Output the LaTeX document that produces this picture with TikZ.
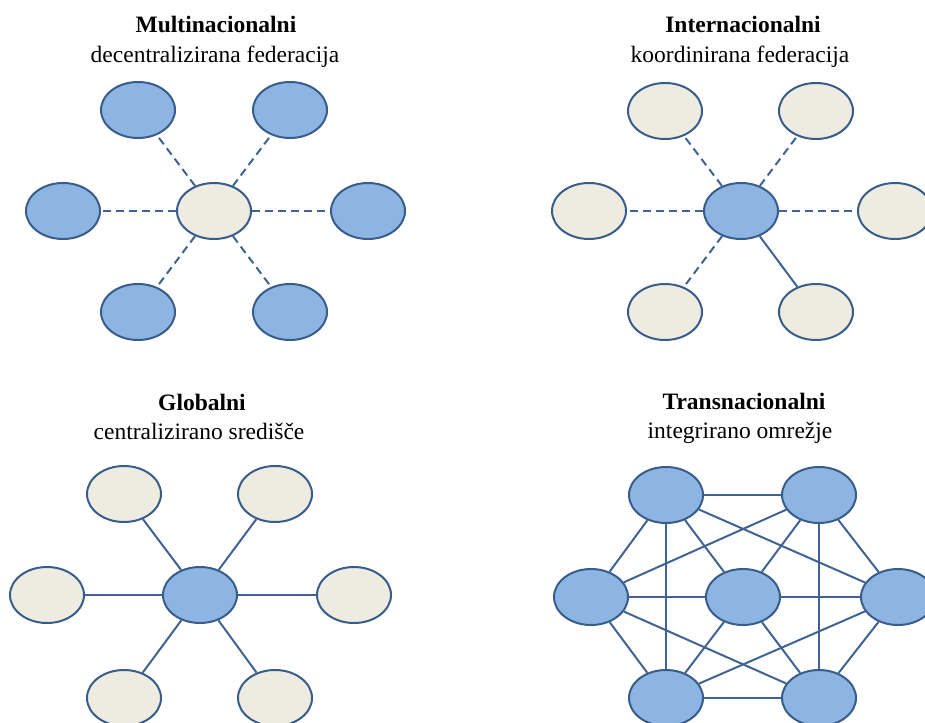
\documentclass[tikz,border=0pt]{standalone}
\usepackage{fontspec}
\setmainfont{Liberation Serif}
\usetikzlibrary{shapes.geometric}

\definecolor{nodeblue}{HTML}{8EB4E3}
\definecolor{nodetan}{HTML}{EEECE1}
\definecolor{rimblue}{HTML}{385D8A}
\definecolor{linkblue}{HTML}{3F6494}

\tikzset{
  unit/.style={ellipse, draw=rimblue, line width=2pt, inner sep=0pt,
               minimum width=74pt, minimum height=56pt},
  hub/.style={unit, fill=nodeblue},
  branch/.style={unit, fill=nodetan},
  link/.style={draw=linkblue, line width=2pt},
  loose/.style={link, dash pattern=on 8pt off 5pt},
  heading/.style={font=\fontsize{23.5}{28}\selectfont\bfseries, anchor=base, inner sep=0pt},
  caption/.style={font=\fontsize{23.5}{28}\selectfont, anchor=base, inner sep=0pt}
}

\begin{document}
\begin{tikzpicture}[x=1pt, y=-1pt]
\useasboundingbox (0,0) rectangle (925,722);
\clip (0,0) rectangle (925,722);

% ---- Multinacionalni: tan centre, blue units, dashed ties
\node[heading] (t1) at (216,33) {Multinacionalni};
\node[caption] (s1) at (215,63) {decentralizirana federacija};
\node[branch] (a0) at (214,211) {};
\node[hub] (a1) at (138,110) {};
\node[hub] (a2) at (290,110) {};
\node[hub] (a3) at (63,211) {};
\node[hub] (a4) at (368,211) {};
\node[hub] (a5) at (138,312) {};
\node[hub] (a6) at (290,312) {};
\foreach \n in {1,...,6} \draw[loose] (a0) -- (a\n);

% ---- Internacionalni: blue centre, tan units, one solid tie
\node[heading] (t2) at (743,33) {Internacionalni};
\node[caption] (s2) at (740,63) {koordinirana federacija};
\node[hub] (b0) at (741,211) {};
\node[branch] (b1) at (665,111) {};
\node[branch] (b2) at (816,111) {};
\node[branch] (b3) at (589,211) {};
\node[branch] (b4) at (895,211) {};
\node[branch] (b5) at (665,312) {};
\node[branch] (b6) at (816,312) {};
\foreach \n in {1,...,5} \draw[loose] (b0) -- (b\n);
\draw[link] (b0) -- (b6);

% ---- Globalni: blue centre, tan units, solid ties
\node[heading] (t3) at (202,410) {Globalni};
\node[caption] (s3) at (199,439) {centralizirano središče};
\node[hub] (c0) at (200,595) {};
\node[branch] (c1) at (124,494) {};
\node[branch] (c2) at (275,494) {};
\node[branch] (c3) at (47,595) {};
\node[branch] (c4) at (354,595) {};
\node[branch] (c5) at (124,698) {};
\node[branch] (c6) at (275,698) {};
\foreach \n in {1,...,6} \draw[link] (c0) -- (c\n);

% ---- Transnacionalni: fully meshed blue units
\node[heading] (t4) at (744,409) {Transnacionalni};
\node[caption] (s4) at (740,438) {integrirano omrežje};
\node[hub] (d0) at (743,597) {};
\node[hub] (d1) at (666,495) {};
\node[hub] (d2) at (819,495) {};
\node[hub] (d3) at (591,597) {};
\node[hub] (d4) at (898,597) {};
\node[hub] (d5) at (666,698) {};
\node[hub] (d6) at (819,698) {};
\foreach \n in {1,...,6} \draw[link] (d0) -- (d\n);
\draw[link] (d1) -- (d2);
\draw[link] (d2) -- (d4);
\draw[link] (d4) -- (d6);
\draw[link] (d6) -- (d5);
\draw[link] (d5) -- (d3);
\draw[link] (d3) -- (d1);
\draw[link] (d1) -- (d5);
\draw[link] (d2) -- (d6);
\draw[link] (d1) -- (d4);
\draw[link] (d2) -- (d3);
\draw[link] (d5) -- (d4);
\draw[link] (d6) -- (d3);
\end{tikzpicture}
\end{document}
